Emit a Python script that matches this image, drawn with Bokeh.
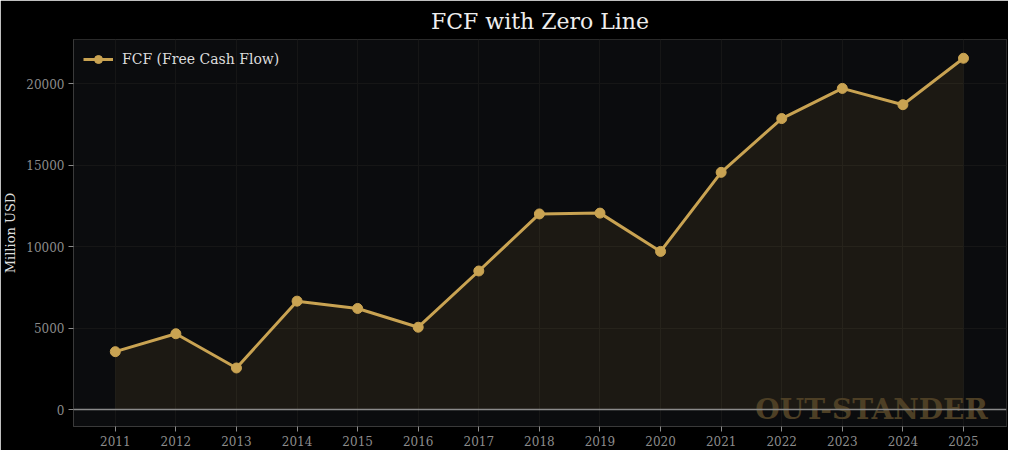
from bokeh.plotting import figure
from bokeh.models import Span, Label, FixedTicker, ColumnDataSource, Legend, LegendItem, Range1d
from bokeh.embed import file_html
from bokeh.resources import INLINE

years = [2011, 2012, 2013, 2014, 2015, 2016, 2017, 2018, 2019, 2020, 2021, 2022, 2023, 2024, 2025]
fcf = [3550, 4650, 2550, 6650, 6200, 5050, 8500, 12000, 12050, 9700, 14550, 17850, 19700, 18700, 21550]
y_ticks = [0, 5000, 10000, 15000, 20000]
series_name = "FCF (Free Cash Flow)"
title_text = "FCF with Zero Line"
watermark = "OUT-STANDER"

GOLD = "#c9a352"
FONT = "DejaVu Serif"

src = ColumnDataSource(dict(x=years, y=fcf, zero=[0] * len(years)))

p = figure(width=1008, height=450, output_backend="svg", toolbar_location=None,
           x_range=Range1d(2010.31, 2025.71), y_range=Range1d(-1040, 22700),
           min_border_left=71, min_border_right=2, min_border_top=39, min_border_bottom=24,
           title=title_text)

p.background_fill_color = "#0b0c0e"
p.border_fill_color = "#000000"
p.outline_line_color = "#2a2a2a"

p.title.text_font = FONT
p.title.text_font_size = "22px"
p.title.text_font_style = "normal"
p.title.text_color = "#eeeeee"
p.title.align = "center"
p.title.standoff = 11

p.varea(x="x", y1="zero", y2="y", source=src, fill_color=GOLD, fill_alpha=0.09)

wm = Label(x=2025.4, y=0, text=watermark, text_align="right", text_baseline="alphabetic",
           text_font=FONT, text_font_size="28px", text_font_style="bold", text_color="#4d3f25")
p.add_layout(wm)

zero = Span(location=0, dimension="width", line_color="#8a8a8a", line_width=1.5)
p.add_layout(zero)

ln = p.line(x="x", y="y", source=src, line_color=GOLD, line_width=3)
ci = p.scatter(x="x", y="y", source=src, size=10, fill_color=GOLD, line_color=GOLD)

legend = Legend(items=[LegendItem(label=series_name, renderers=[ln, ci])], location="top_left",
                background_fill_alpha=0, border_line_alpha=0, label_text_font=FONT,
                label_text_font_size="14px", label_text_color="#dddddd", glyph_width=30,
                label_standoff=9, margin=6, padding=4)
p.add_layout(legend)

p.xaxis.ticker = FixedTicker(ticks=years)
p.yaxis.ticker = FixedTicker(ticks=y_ticks)
for ax in (p.xaxis, p.yaxis):
    ax.major_label_text_font = FONT
    ax.major_label_text_font_size = "12px"
    ax.major_label_text_color = "#8c8c8c"
    ax.axis_line_color = "#3a3a3a"
    ax.major_tick_line_color = "#8c8c8c"
    ax.minor_tick_line_color = None
    ax.major_tick_in = 0
    ax.major_tick_out = 5
    ax.major_label_standoff = 4

p.yaxis.axis_label = "Million USD"
p.yaxis.axis_label_text_font = FONT
p.yaxis.axis_label_text_font_size = "13px"
p.yaxis.axis_label_text_font_style = "normal"
p.yaxis.axis_label_text_color = "#dddddd"

p.xgrid.grid_line_color = "#161616"
p.ygrid.grid_line_color = "#161616"

open("out.html", "w").write(file_html(p, INLINE))
